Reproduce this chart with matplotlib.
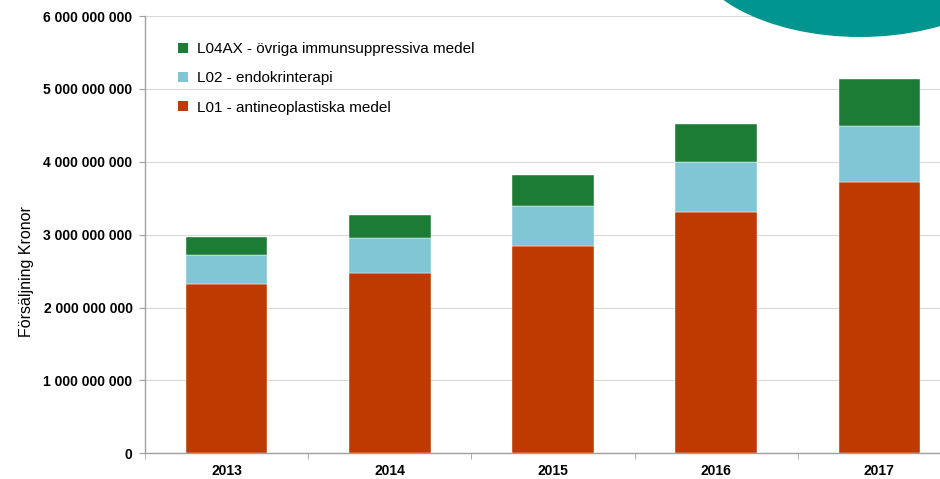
import matplotlib
matplotlib.use("Agg")
import matplotlib.pyplot as plt
from matplotlib.patches import Ellipse, Patch
from matplotlib.ticker import FuncFormatter, FixedLocator
import numpy as np

plt.rcParams['font.family'] = ['Liberation Sans', 'DejaVu Sans']

years = ["2013", "2014", "2015", "2016", "2017"]
l01 = [2.318e9, 2.477e9, 2.840e9, 3.306e9, 3.726e9]
l02 = [0.402e9, 0.472e9, 0.556e9, 0.686e9, 0.764e9]
l04ax = [0.243e9, 0.320e9, 0.426e9, 0.521e9, 0.644e9]
series_labels = ["L01 - antineoplastiska medel", "L02 - endokrinterapi",
                 "L04AX - övriga immunsuppressiva medel"]
colors = ["#BE3A00", "#80C6D4", "#1C7C35"]
ylabel = "Försäljning Kronor"

W, H = 940, 479
fig = plt.figure(figsize=(W / 100, H / 100), dpi=100)
ax = fig.add_axes([145 / W, (H - 453.3) / H, (961 - 145) / W, (453.3 - 16) / H])

x = np.arange(len(years))
bottom = np.zeros(len(years))
for vals, c in zip([l01, l02, l04ax], colors):
    ax.bar(x, vals, width=0.5, bottom=bottom, color=c, edgecolor="white",
           linewidth=0.3, zorder=3)
    bottom += np.array(vals)

ax.set_xlim(-0.5, 4.5)
ax.set_ylim(0, 6e9)
ax.set_yticks(np.arange(0, 6.01e9, 1e9))
ax.yaxis.set_major_formatter(FuncFormatter(lambda v, p: f"{int(round(v)):,}".replace(",", " ")))
ax.grid(axis="y", color="#D9D9D9", linewidth=0.8, zorder=0)
ax.set_axisbelow(True)

ax.set_xticks(x)
ax.set_xticklabels(years)
ax.xaxis.set_minor_locator(FixedLocator(np.arange(-0.5, 5, 1.0)))
ax.tick_params(axis="x", which="major", length=0, pad=8, labelsize=10)
ax.tick_params(axis="x", which="minor", length=4, color="#A0A0A0", direction="out")
ax.tick_params(axis="y", length=4, color="#A0A0A0", direction="out", labelsize=10, pad=5)
for lbl in ax.get_xticklabels() + ax.get_yticklabels():
    lbl.set_fontweight("bold")

for s in ["top", "right"]:
    ax.spines[s].set_visible(False)
for s in ["left", "bottom"]:
    ax.spines[s].set_color("#A0A0A0")
    ax.spines[s].set_linewidth(1.0)

ax.set_ylabel(ylabel, fontsize=11.5)
ax.yaxis.set_label_coords(-111 / (961 - 145), (453.3 - 272) / (453.3 - 16))

handles = [Patch(facecolor=c) for c in colors][::-1]
labels = series_labels[::-1]
fig.legend(handles, labels, loc="upper left", bbox_to_anchor=(178 / W, 1 - 42 / H),
           frameon=False, fontsize=11, handlelength=0.65, handleheight=0.65,
           handletextpad=0.6, labelspacing=1.0, borderpad=0, borderaxespad=0)

ell = Ellipse((860 / W, 1 + 60 / H), 348 / W, 194 / H, transform=fig.transFigure,
              facecolor="#00968F", edgecolor="none", zorder=10)
fig.add_artist(ell)

fig.savefig("out.png", dpi=100)
